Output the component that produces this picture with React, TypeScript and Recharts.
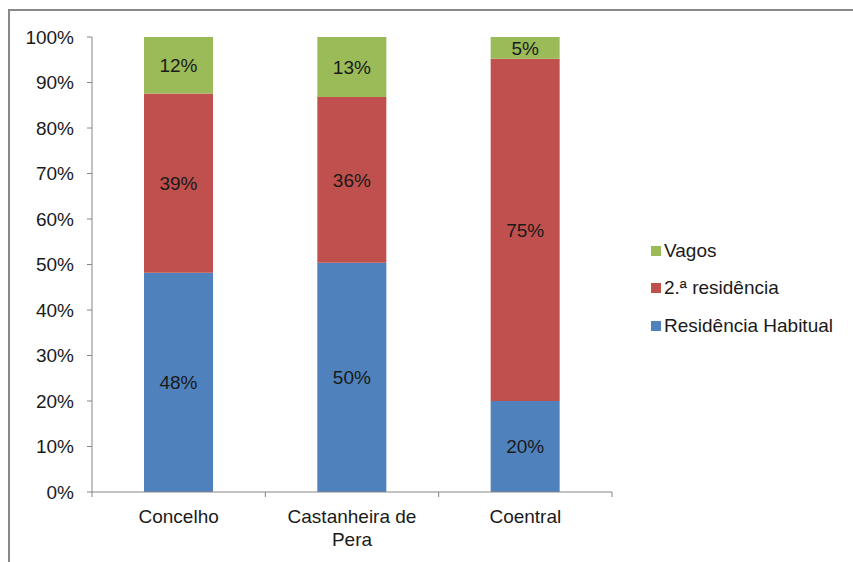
import React from 'react';
import { BarChart, Bar, XAxis, YAxis, LabelList } from 'recharts';

const categories = ['Concelho', 'Castanheira de Pera', 'Coentral'];
const habitual = [48.2, 50.4, 20.0];
const segunda = [39.4, 36.4, 75.2];
const vagos = [12.4, 13.2, 4.8];
const yTicks = [0, 10, 20, 30, 40, 50, 60, 70, 80, 90, 100];

const seriesNames = { habitual: 'Residência Habitual', segunda: '2.ª residência', vagos: 'Vagos' };
const colors = { habitual: '#4F81BD', segunda: '#C0504D', vagos: '#9BBB59' };

const data = categories.map((c, i) => ({
  name: c,
  habitual: habitual[i],
  segunda: segunda[i],
  vagos: vagos[i],
}));

const FONT = '"Liberation Sans", Arial, sans-serif';
const TEXT = '#1a1a1a';
const AXIS = '#868686';

const XTick = (props: any) => {
  const { x, y, payload, index, width, visibleTicksCount } = props;
  const half = width / visibleTicksCount / 2;
  const words = String(payload.value).split(' ');
  const lines = words.length > 2 ? [words.slice(0, -1).join(' '), words[words.length - 1]] : [words.join(' ')];
  return (
    <g>
      <line x1={x - half} x2={x - half} y1={y} y2={y + 5} stroke={AXIS} />
      {index === visibleTicksCount - 1 && (
        <line x1={x + half} x2={x + half} y1={y} y2={y + 5} stroke={AXIS} />
      )}
      <text x={x} y={y + 31} textAnchor="middle" fontSize={19} fontFamily={FONT} fill={TEXT}>
        {lines.map((l, i) => (
          <tspan key={i} x={x} dy={i === 0 ? 0 : 23}>
            {l}
          </tspan>
        ))}
      </text>
    </g>
  );
};

const LegendBox = () => {
  const order: Array<'vagos' | 'segunda' | 'habitual'> = ['vagos', 'segunda', 'habitual'];
  return (
    <div style={{ position: 'absolute', left: 651, top: 232, fontFamily: FONT, fontSize: 19, color: TEXT }}>
      {order.map((k) => (
        <div key={k} style={{ height: 37.5, whiteSpace: 'nowrap', display: 'flex', alignItems: 'center' }}>
          <span style={{ display: 'inline-block', width: 10, height: 10, background: colors[k], marginRight: 3 }} />
          <span>{seriesNames[k]}</span>
        </div>
      ))}
    </div>
  );
};

const fmt = (v: any) => `${Math.round(Number(v))}%`;

export default function App() {
  return (
    <div style={{ position: 'absolute', left: 0, top: 0, width: 853, height: 562, background: '#fff', overflow: 'hidden' }}>
      <div
        style={{
          position: 'absolute',
          left: 8,
          top: 9,
          width: 900,
          height: 600,
          borderTop: '2px solid #888',
          borderLeft: '2px solid #888',
        }}
      />
      <div style={{ position: 'absolute', left: 0, top: 0 }}>
        <BarChart
          width={853}
          height={562}
          data={data}
          margin={{ top: 37, right: 241, bottom: 0, left: 0 }}
          barCategoryGap="30%"
          style={{ fontFamily: FONT }}
        >
          <XAxis
            dataKey="name"
            height={70}
            axisLine={{ stroke: AXIS }}
            tickLine={false}
            tickSize={0}
            tickMargin={0}
            interval={0}
            tick={<XTick />}
          />
          <YAxis
            width={92}
            domain={[0, 100]}
            ticks={yTicks}
            tickFormatter={(v: number) => `${v}%`}
            axisLine={{ stroke: AXIS }}
            tickLine={{ stroke: AXIS }}
            tickSize={5}
            tickMargin={13}
            tick={{ fontSize: 19, fill: TEXT, fontFamily: FONT }}
            allowDataOverflow
          />
          {(['habitual', 'segunda', 'vagos'] as const).map((k) => (
            <Bar key={k} dataKey={k} stackId="a" fill={colors[k]} isAnimationActive={false} name={seriesNames[k]}>
              <LabelList dataKey={k} position="center" formatter={fmt} fill={TEXT} fontSize={19} fontFamily={FONT} />
            </Bar>
          ))}
        </BarChart>
      </div>
      <LegendBox />
    </div>
  );
}
